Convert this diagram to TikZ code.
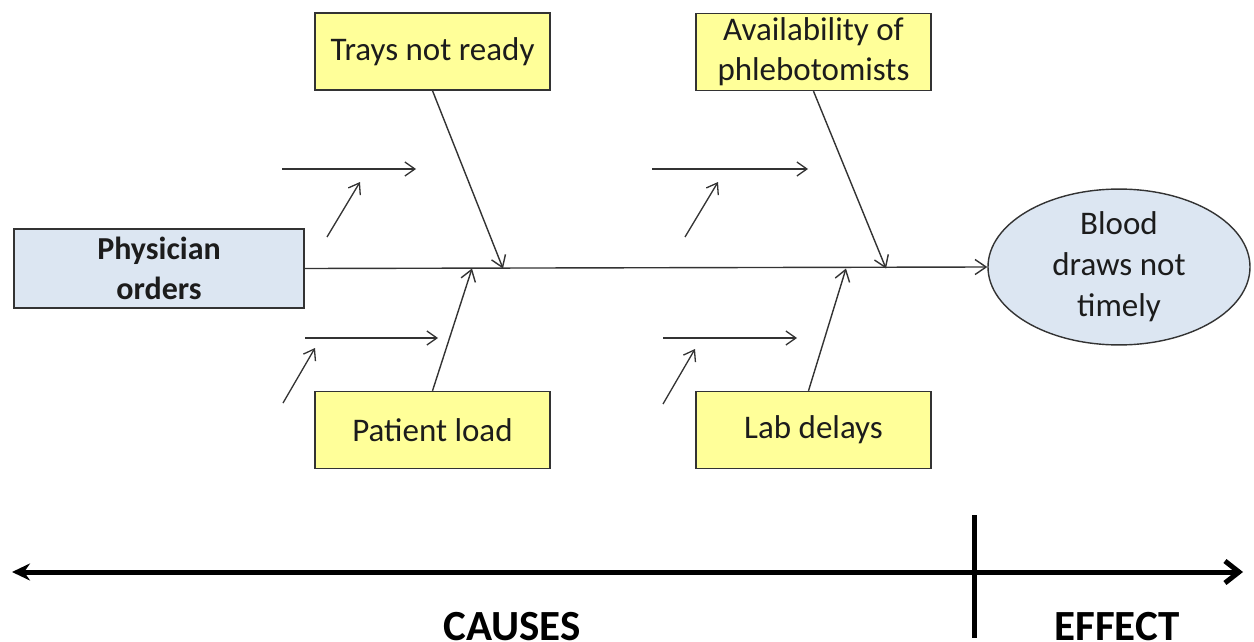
\documentclass[tikz,border=0pt]{standalone}
\usepackage{fontspec}
\setmainfont{Carlito}
\usetikzlibrary{arrows.meta,shapes.geometric}
\definecolor{causefill}{HTML}{FFFF99}
\definecolor{headfill}{HTML}{DCE6F2}
\definecolor{inkline}{HTML}{333333}
\definecolor{inktext}{HTML}{1C1C1C}
\begin{document}
\begin{tikzpicture}[x=1pt,y=-1pt,
  causebox/.style={draw=inkline, line width=1.4pt, fill=causefill,
    minimum width=235pt, minimum height=77pt, inner sep=0pt, align=center,
    font=\fontsize{33}{40}\selectfont, text=inktext},
  headbox/.style={draw=inkline, line width=1.4pt, fill=headfill,
    minimum width=290pt, minimum height=79pt, inner sep=0pt, align=center,
    font=\fontsize{32}{40}\selectfont\bfseries, text=inktext},
  effectnode/.style={ellipse, draw=inkline, line width=1.4pt, fill=headfill,
    minimum width=262pt, minimum height=118pt, inner sep=0pt, align=center,
    font=\fontsize{33}{41}\selectfont, text=inktext},
  bone/.style={draw=inkline, line width=1.4pt,
    -{Straight Barb[length=11pt,width=15pt]}},
  subbone/.style={draw=inkline, line width=1.3pt,
    -{Straight Barb[length=10pt,width=14pt]}},
  axislabel/.style={font=\fontsize{43}{43}\selectfont\bfseries, text=black, anchor=base}
]
\useasboundingbox (0,0) rectangle (1254,642);
\clip (0,0) rectangle (1254,642);
\fill[white] (0,0) rectangle (1254,642);

% head and effect
\node[headbox] (phys) at (159,268.5) {Physician\\orders};
\node[effectnode] (effect) at (1119,267) {Blood\\draws not\\timely};

% cause boxes
\node[causebox] (trays) at (432.5,51.5) {Trays not ready};
\node[causebox] (avail) at (813.5,52) {Availability of\\phlebotomists};
\node[causebox] (patient) at (432.5,430) {Patient load};
\node[causebox] (lab) at (813.5,430) {Lab delays};

% spine
\draw[bone] (phys.east) -- (effect.west);

% points where the bones meet the spine
\coordinate (traysin) at (503,268.5);
\coordinate (patientin) at (472,268.5);
\coordinate (availin) at (886,268.5);
\coordinate (labin) at (846,268.5);

% main bones
\draw[bone] (trays.south) -- (traysin);
\draw[bone] (patient.north) -- (patientin);
\draw[bone] (avail.south) -- (availin);
\draw[bone] ([xshift=-5pt]lab.north) -- (labin);

% sub-cause arrows
\coordinate (tlh0) at (282,169);  \coordinate (tlh1) at (416,169);
\coordinate (tld0) at (327,237);  \coordinate (tld1) at (360,182);
\coordinate (blh0) at (305,338);  \coordinate (blh1) at (438,338);
\coordinate (bld0) at (283,403);  \coordinate (bld1) at (315,348);
\coordinate (trh0) at (652,169);  \coordinate (trh1) at (808,169);
\coordinate (trd0) at (685,237);  \coordinate (trd1) at (718,182);
\coordinate (brh0) at (663,338);  \coordinate (brh1) at (797,338);
\coordinate (brd0) at (663,404);  \coordinate (brd1) at (695,349);
\draw[subbone] (tlh0) -- (tlh1);
\draw[subbone] (tld0) -- (tld1);
\draw[subbone] (blh0) -- (blh1);
\draw[subbone] (bld0) -- (bld1);
\draw[subbone] (trh0) -- (trh1);
\draw[subbone] (trd0) -- (trd1);
\draw[subbone] (brh0) -- (brh1);
\draw[subbone] (brd0) -- (brd1);

% cause / effect axis
\coordinate (axl) at (12,572);
\coordinate (axr) at (1243,572);
\coordinate (divt) at (974,515);
\coordinate (divb) at (974,638);
\draw[line width=5pt, black,
  {Stealth[length=18pt,width=17pt]}-{Straight Barb[length=14pt,width=22pt,line width=5pt]}]
  (axl) -- (axr);
\draw[line width=5pt, black] (divt) -- (divb);
\node[axislabel] (causes) at (512,640) {CAUSES};
\node[axislabel] (effectlbl) at (1117,640) {EFFECT};
\end{tikzpicture}
\end{document}
